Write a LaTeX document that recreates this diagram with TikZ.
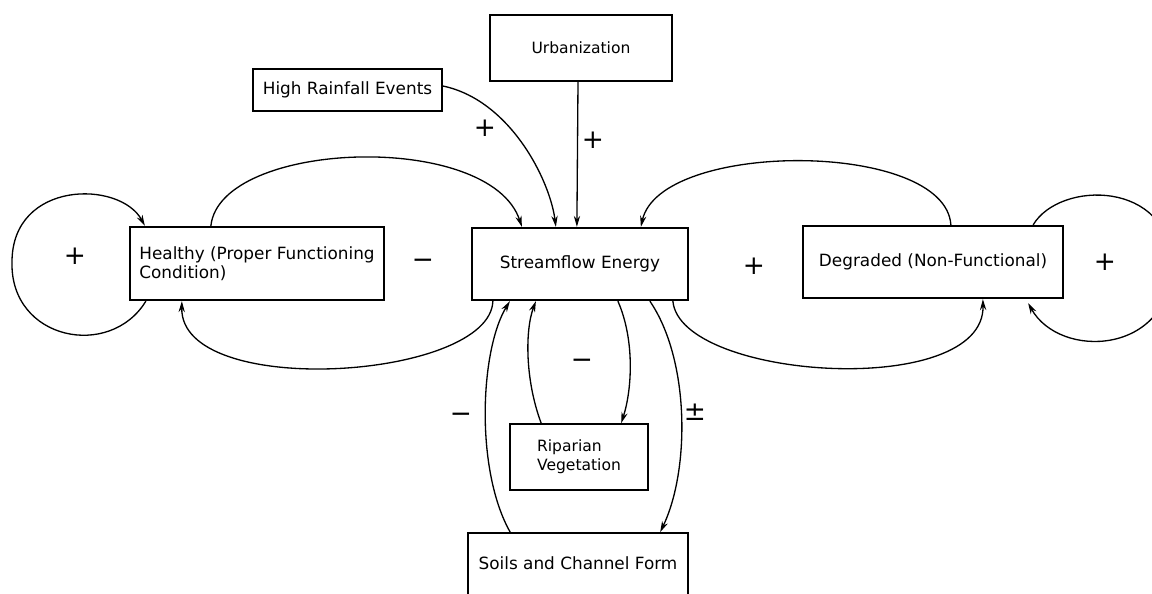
\documentclass[tikz,border=0pt]{standalone}
\usepackage{fontspec}
\setmainfont{DejaVu Sans}
\usetikzlibrary{arrows.meta,calc}
\begin{document}
\begin{tikzpicture}[x=0.02cm,y=-0.02cm,
  thickbox/.style={draw, line width=1.3pt, inner sep=0pt, font=\fontsize{9.6}{10.8}\selectfont},
  thinbox/.style={draw, line width=0.95pt, inner sep=0pt, font=\fontsize{9.6}{10.8}\selectfont},
  link/.style={line width=0.75pt, -{Stealth[length=2.2mm,width=1.25mm]}},
  sign/.style={font=\fontsize{15}{15}\selectfont, inner sep=0pt}]
\useasboundingbox (0,0) rectangle (1152,594);
\clip (0,0) rectangle (1152,594);

% nodes
\node[thinbox, minimum width=3.64cm, minimum height=1.32cm, font=\fontsize{8.85}{10.8}\selectfont] (urb) at (581,48) {Urbanization};
\node[thinbox, minimum width=3.78cm, minimum height=0.84cm] (rain) at (347.5,90) {High Rainfall Events};
\node[thickbox, minimum width=4.32cm, minimum height=1.44cm] (sfe) at (580,264) {Streamflow Energy};
\node[thickbox, minimum width=5.08cm, minimum height=1.46cm, align=left] (hea) at (257,263.5) {Healthy (Proper Functioning\\Condition)};
\node[thickbox, minimum width=5.2cm, minimum height=1.44cm] (deg) at (933,262) {\raisebox{0.08cm}{Degraded (Non-Functional)}};
\node[thinbox, minimum width=2.76cm, minimum height=1.32cm, align=left, font=\fontsize{8.85}{10.8}\selectfont] (rip) at (579,457) {Riparian\\Vegetation};
\node[thinbox, minimum width=4.4cm, minimum height=1.32cm] (soil) at (578,566) {\raisebox{0.1cm}{Soils and Channel Form}};

% connectors
\draw[link] ($(hea.south west)+(17,0)$) .. controls (110,360) and (10,340) .. (12,262)
  .. controls (12,180) and (120,180) .. ($(hea.north west)+(16,0)$);
\draw[link] ($(hea.north west)+(82,0)$) .. controls (220,140) and (490,130) .. ($(sfe.north west)+(51,0)$);
\draw[link] ($(sfe.south west)+(22,0)$) .. controls (490,380) and (180,400) .. ($(hea.south west)+(53,0)$);
\draw[link] ($(sfe.south west)+(202,0)$) .. controls (680,380) and (985,400) .. ($(deg.south west)+(181,0)$);
\draw[link] ($(deg.north west)+(149,0)$) .. controls (945,140) and (660,140) .. ($(sfe.north west)+(170,0)$);
\draw[link] ($(deg.north east)+(-31,0)$) .. controls (1060,180) and (1170,180) .. (1172,265)
  .. controls (1170,355) and (1060,360) .. ($(deg.south east)+(-36,4)$);
\draw[link] ($(rain.east)+(0,-4)$) .. controls (510,100) and (550,180) .. ($(sfe.north west)+(85,0)$);
\draw[link] ($(urb.south)+(-3,0)$) -- ($(sfe.north west)+(106,0)$);
\draw[link] ($(sfe.south west)+(147,0)$) .. controls (635,340) and (632,390) .. ($(rip.north west)+(112,0)$);
\draw[link] ($(rip.north west)+(32,0)$) .. controls (525,380) and (525,330) .. ($(sfe.south west)+(65,0)$);
\draw[link] ($(soil.north west)+(43,0)$) .. controls (475,470) and (480,350) .. ($(sfe.south west)+(39,0)$);
\draw[link] ($(sfe.south west)+(179,0)$) .. controls (690,360) and (690,470) .. ($(soil.north west)+(193,0)$);

% polarity signs
\node[sign] (p1) at (75,256) {+};
\node[sign] (m1) at (423,264) {−};
\node[sign] (p2) at (754,266) {+};
\node[sign] (p3) at (1105,262) {+};
\node[sign] (p4) at (485,128) {+};
\node[sign] (p5) at (593,140) {+};
\node[sign] (m2) at (582,364) {−};
\node[sign] (m3) at (461,418) {−};
\node[sign] (pm) at (695,412) {±};
\end{tikzpicture}
\end{document}
